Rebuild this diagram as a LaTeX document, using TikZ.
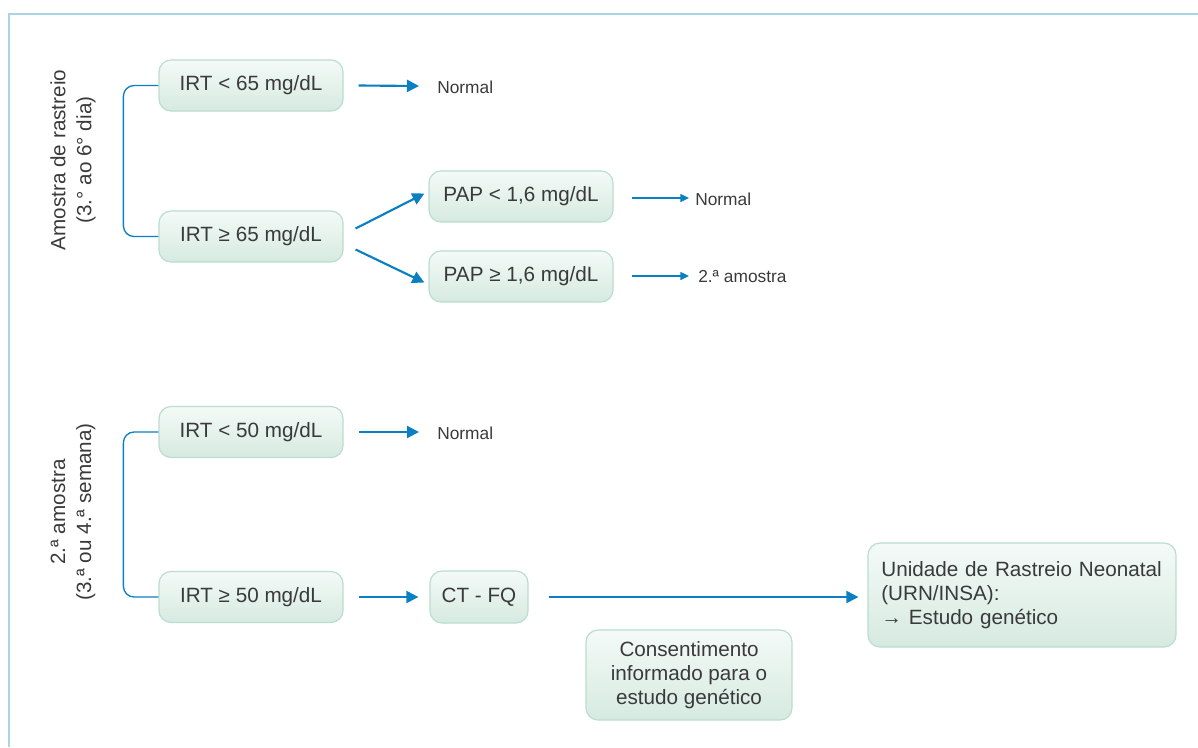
\documentclass[tikz,border=0pt]{standalone}
\usepackage{fontspec}
\setmainfont{Liberation Sans}
\usetikzlibrary{arrows.meta,calc}
\definecolor{arrowblue}{HTML}{0A80C2}
\definecolor{frameblue}{HTML}{A9D5E2}
\definecolor{boxedge}{HTML}{BADDCF}
\definecolor{boxtop}{HTML}{F4FAF7}
\definecolor{boxbot}{HTML}{D6EAE1}
\definecolor{txt}{HTML}{3A3A3A}
\tikzset{
  box/.style={draw=boxedge, line width=0.9pt, rounded corners=9pt, top color=boxtop, bottom color=boxbot,
    text=txt, font=\fontsize{15.5}{19}\selectfont, inner sep=0pt, align=center},
  wbox/.style={box, minimum width=138pt, minimum height=38.25pt},
  lbl/.style={text=txt, font=\fontsize{13}{16}\selectfont, anchor=west, inner sep=0pt},
  thick arrow/.style={draw=arrowblue, line width=1.6pt, -{Triangle[length=9pt,width=9pt]}},
  thin arrow/.style={draw=arrowblue, line width=1pt, -{Triangle[length=6.5pt,width=6pt]}},
  bracket/.style={draw=arrowblue, line width=1pt, rounded corners=8pt},
  side/.style={text=txt, font=\fontsize{15.5}{19.5}\selectfont, rotate=90, align=center, inner sep=0pt}
}
\begin{document}
\begin{tikzpicture}[x=0.75pt,y=-0.75pt]
\useasboundingbox (0,0) rectangle (1198,747);
% frame
\draw[frameblue, line width=1.1pt] (1198,14) -- (9,14) -- (9,747);

% side labels
\node[side] (s1) at (73,160) {Amostra de rastreio\\(3.° ao 6° dia)};
\node[side] (s2) at (73,512) {2.ª amostra\\(3.ª ou 4.ª semana)};

% boxes
\node[wbox] (a1) at (251,85.5) {IRT < 65 mg/dL};
\node[wbox] (a2) at (251,236.5) {IRT ≥ 65 mg/dL};
\node[wbox] (p1) at (521,196.5) {PAP < 1,6 mg/dL};
\node[wbox] (p2) at (521,276.5) {PAP ≥ 1,6 mg/dL};
\node[wbox] (b1) at (251,432) {IRT < 50 mg/dL};
\node[wbox] (b2) at (251,597) {IRT ≥ 50 mg/dL};
\node[box, minimum width=73.5pt, minimum height=39pt] (ct) at (479,597) {CT - FQ};
\node[box, minimum width=154.5pt, minimum height=67.5pt, font=\fontsize{15.5}{18}\selectfont] (ci) at (689,675) {Consentimento\\informado para o\\estudo genético};
\node[box, minimum width=231pt, minimum height=78pt, text width=211pt, align=left, font=\fontsize{15.5}{18}\selectfont] (un) at (1022,595) {Unidade de Rastreio Neonatal\\(URN/INSA):\\→ Estudo genético};

% labels
\node[lbl] (n1) at (437,87) {Normal};
\node[lbl] (n2) at (695,199) {Normal};
\node[lbl] (n3) at (698,277) {2.ª amostra};
\node[lbl] (n4) at (437,433) {Normal};

% brackets
\draw[bracket] (a1.west) -- ++(-35,0) |- (a2.west);
\draw[bracket] (b1.west) -- ++(-35,0) |- (b2.west);

% arrows
\draw[thick arrow] ($(a1.east)+(15,0)$) -- ($(n1.west)+(-18,-1)$);
\draw[thick arrow] ($(a2.east)+(12,-8)$) -- ($(p1.west)+(-4,-3)$);
\draw[thick arrow] ($(a2.east)+(12,13)$) -- ($(p2.west)+(-4,6)$);
\draw[thin arrow] ($(p1.east)+(18,1.5)$) -- ($(n2.west)+(-6,-1)$);
\draw[thin arrow] ($(p2.east)+(18,-0.5)$) -- ($(n3.west)+(-9,-1)$);
\draw[thick arrow] ($(b1.east)+(15,0)$) -- ($(n4.west)+(-18,-1)$);
\draw[thick arrow] ($(b2.east)+(15,0)$) -- ($(ct.west)+(-11,0)$);
\draw[thick arrow] ($(ct.east)+(20,0)$) -- ($(un.west)+(-9,2)$);
\end{tikzpicture}
\end{document}
